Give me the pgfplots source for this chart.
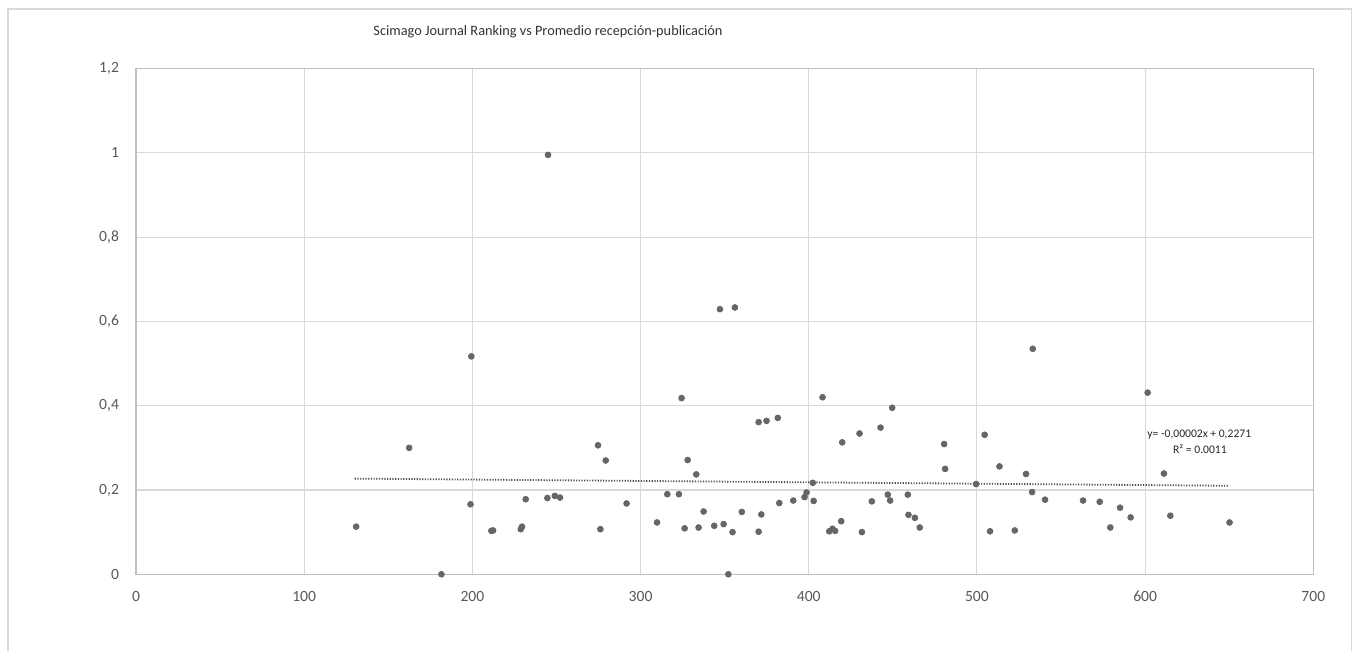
\documentclass[border=0pt]{standalone}
\usepackage{fontspec}
\setmainfont{Carlito}
\usepackage{pgfplots}
\pgfplotsset{compat=1.18}
\definecolor{gridc}{HTML}{D9D9D9}
\definecolor{axc}{HTML}{BFBFBF}
\definecolor{dotc}{HTML}{666666}
\definecolor{trc}{HTML}{505050}
\definecolor{txtc}{HTML}{595959}
\begin{document}
\begin{tikzpicture}[x=0.5pt,y=0.5pt]
\useasboundingbox (0,0) rectangle (1357,651);
\draw[gridc, line width=0.6pt] (8,-20) -- (8,642) -- (1351.5,642) -- (1351.5,-20);
\node[font=\fontsize{7.15pt}{8.5pt}\selectfont, text=black!80] at (548,619.3) {Scimago Journal Ranking vs Promedio recepción-publicación};
\begin{axis}[
  at={(68pt,38.35pt)}, anchor=south west,
  scale only axis, width=588.65pt, height=252.9pt,
  xmin=0, xmax=700, ymin=0, ymax=1.2,
  xtick={0,100,...,700}, ytick={0,0.2,0.4,0.6,0.8,1,1.2},
  grid=major, major grid style={gridc, line width=0.55pt},
  axis line style={axc, line width=0.6pt},
  major tick length=0pt,
  tick label style={font=\fontsize{7.8pt}{9pt}\selectfont, text=txtc},
  /pgf/number format/assume math mode=true,
  /pgf/number format/use comma,
  yticklabel style={xshift=-5pt},
  xticklabel style={yshift=-5pt},
  clip=false,
]
\addplot[only marks, mark=*, mark size=1.45pt, mark options={fill=dotc, draw=dotc}] table {
x y
130.9 0.113
162.4 0.300
181.6 0.000
198.9 0.166
199.4 0.517
211.3 0.103
212.3 0.104
228.8 0.107
229.5 0.113
231.7 0.178
244.6 0.181
245.0 0.995
249.0 0.186
252.1 0.182
274.7 0.306
276.1 0.107
279.3 0.270
291.7 0.168
309.8 0.123
315.9 0.190
322.8 0.190
324.4 0.418
326.2 0.109
328.0 0.271
333.1 0.237
334.5 0.111
337.5 0.149
343.8 0.115
347.2 0.629
349.4 0.119
352.2 0.000
354.7 0.100
356.1 0.633
360.2 0.148
370.2 0.361
370.2 0.101
371.8 0.142
374.9 0.364
381.6 0.371
382.5 0.169
390.8 0.175
397.5 0.183
398.7 0.194
402.4 0.217
402.9 0.174
408.2 0.420
412.2 0.102
414.1 0.108
415.7 0.103
419.3 0.126
419.9 0.313
430.2 0.334
431.6 0.100
437.5 0.173
442.7 0.348
447.0 0.189
448.4 0.175
449.6 0.395
458.9 0.189
459.3 0.141
463.1 0.134
466.0 0.111
480.5 0.309
481.1 0.250
499.5 0.214
504.6 0.331
507.8 0.102
513.4 0.256
522.5 0.104
529.2 0.238
532.8 0.195
533.2 0.535
540.5 0.177
563.1 0.175
573.0 0.172
579.3 0.111
585.1 0.158
591.4 0.135
601.5 0.431
611.2 0.239
615.0 0.139
650.2 0.123
};
\addplot[no marks, color=trc, line width=0.9pt, dash pattern=on 0.6pt off 0.75pt] coordinates {(130,0.227) (650,0.210)};
\node[font=\fontsize{5.8pt}{7pt}\selectfont, text=black!85] at (axis cs:632.2,0.332) {y= -0,00002x + 0,2271};
\node[font=\fontsize{5.8pt}{7pt}\selectfont, text=black!85] at (axis cs:632.6,0.298) {R² = 0.0011};
\end{axis}
\end{tikzpicture}
\end{document}
